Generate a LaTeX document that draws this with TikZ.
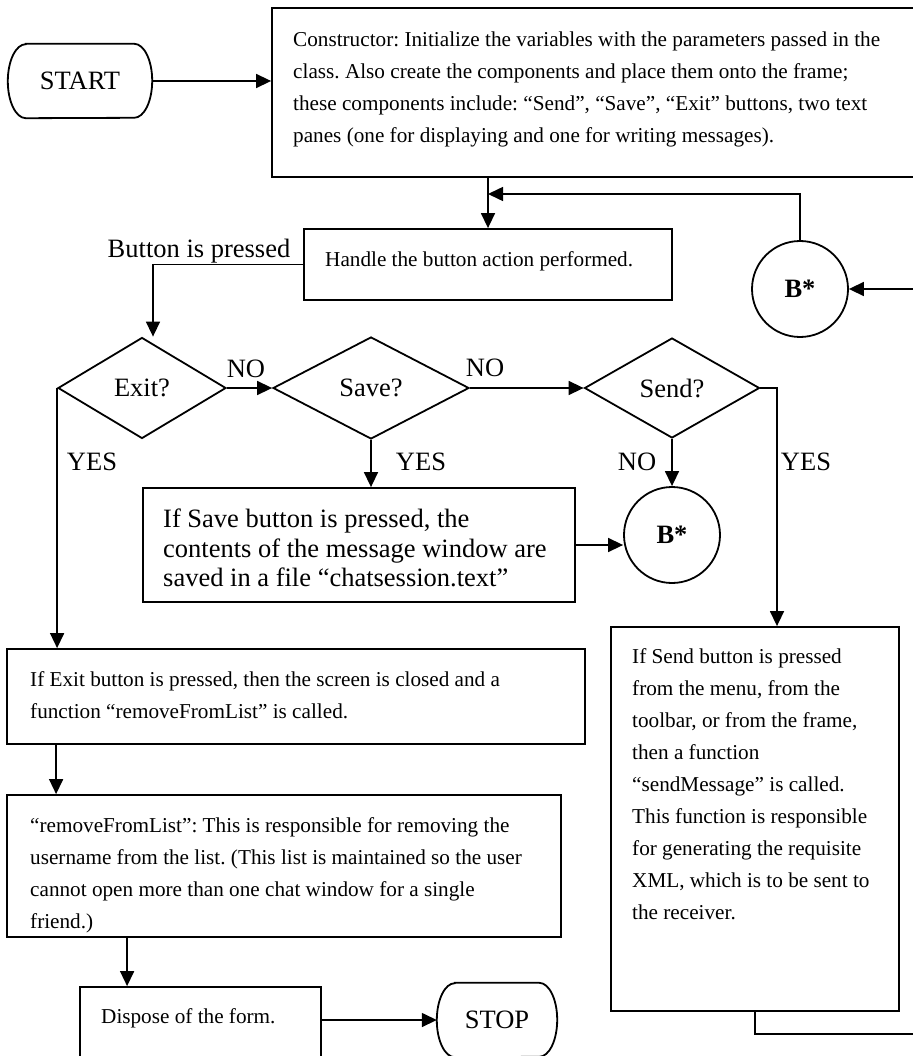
\documentclass[tikz,border=0pt]{standalone}
\usepackage{fontspec}
\setmainfont{Liberation Serif}
\usetikzlibrary{arrows.meta,positioning,shapes.geometric}
\newcommand{\flowbig}{\fontsize{26.5}{29.5}\selectfont}
\newcommand{\flowsmall}{\fontsize{21.2}{32}\selectfont}
\frenchspacing

\begin{document}
\begin{tikzpicture}[x=1pt,y=-1pt,
terminal/.style={rectangle,inner sep=0pt,minimum height=74pt,font=\flowbig},
caja/.style={draw,line width=1.8pt,inner sep=0pt},
boxtext/.style={anchor=north west,align=left,inner sep=0pt,font=\flowsmall},
decision/.style={diamond,draw,line width=1.8pt,inner sep=0pt,font=\flowbig},
connector/.style={circle,draw,line width=1.8pt,minimum size=96pt,inner sep=0pt,font=\flowbig\bfseries},
arr/.style={-{Triangle[length=15pt,width=14pt]},line width=1.5pt},
lbl/.style={anchor=base,inner sep=0pt,font=\flowbig}
]
\useasboundingbox[fill=white] (0,0) rectangle (912,1056);

% start and constructor
\node[terminal,minimum width=144pt] (start) at (80,81) {START};
\node[caja,minimum width=658pt,minimum height=169pt] (ctor) at (601,92.5) {};
\node[boxtext] (ctortext) at (293,32) {Constructor: Initialize the variables with the parameters passed in the\\
class. Also create the components and place them onto the frame;\\
these components include: ``Send'', ``Save'', ``Exit'' buttons, two text\\
panes (one for displaying and one for writing messages).};

% button handler and the B* return
\node[caja,minimum width=368pt,minimum height=71pt] (handle) at (488,264.5) {};
\node[boxtext] (handletext) at (325,251) {Handle the button action performed.};
\node[lbl] (pressed) at (199,258) {Button is pressed};
\node[connector] (bjump) at (800,289) {B*};
\coordinate (rejoin) at (488,194);

% decisions
\node[decision,minimum width=168pt,minimum height=101pt] (exit) at (142,388) {Exit?};
\node[decision,minimum width=196pt,minimum height=102pt] (save) at (371,388) {Save?};
\node[decision,minimum width=175pt,minimum height=100pt] (send) at (672,388) {Send?};

\node[lbl] (noexit) at (246,377) {NO};
\node[lbl] (nosave) at (485,376) {NO};
\node[lbl] (yesexit) at (92,470) {YES};
\node[lbl] (yessave) at (421,470) {YES};
\node[lbl] (nosend) at (637,470) {NO};
\node[lbl] (yessend) at (806,470) {YES};

% save branch
\node[caja,minimum width=432pt,minimum height=114pt] (savebox) at (359,545) {};
\node[boxtext,font=\flowbig] (savetext) at (163,509) {If Save button is pressed, the\\
contents of the message window are\\
saved in a file ``chatsession.text''};
\node[connector] (bsave) at (672,535) {B*};

% send branch
\node[caja,minimum width=288pt,minimum height=384pt] (sendbox) at (755,819) {};
\node[boxtext] (sendtext) at (632,648) {If Send button is pressed\\
from the menu, from the\\
toolbar, or from the frame,\\
then a function\\
``sendMessage'' is called.\\
This function is responsible\\
for generating the requisite\\
XML, which is to be sent to\\
the receiver.};
\coordinate (rim) at (930,1034);

% exit branch
\node[caja,minimum width=578pt,minimum height=95pt] (exitbox) at (296,696.5) {};
\node[boxtext] (exittext) at (30,671) {If Exit button is pressed, then the screen is closed and a\\
function ``removeFromList'' is called.};
\node[caja,minimum width=554pt,minimum height=142pt] (removebox) at (284,866) {};
\node[boxtext] (removetext) at (30,817) {``removeFromList'': This is responsible for removing the\\
username from the list. (This list is maintained so the user\\
cannot open more than one chat window for a single\\
friend.)};
\node[caja,minimum width=241pt,minimum height=75pt] (dispose) at (200.5,1024.5) {};
\node[boxtext] (disposetext) at (101,1008) {Dispose of the form.};
\node[terminal,minimum width=120pt] (stop) at (497,1020) {STOP};

% terminal outlines with flattened ends
\foreach \t in {start,stop}
  \draw[line width=1.8pt] ([xshift=18pt]\t.north west) -- ([xshift=-18pt]\t.north east)
    arc[start angle=90,end angle=-90,x radius=18pt,y radius=37pt]
    -- ([xshift=18pt]\t.south west)
    arc[start angle=270,end angle=90,x radius=18pt,y radius=37pt] -- cycle;

% connectors
\draw[arr] (start) -- (start -| ctor.west);
\draw[arr] (handle.north |- ctor.south) -- (handle.north);
\draw[arr] (bjump.north) |- (rejoin);
\draw[arr] (handle.west) -| ([xshift=11pt]exit.north);
\draw[arr] (exit) -- (save);
\draw[arr] (save) -- (send);
\draw[arr] (send.east) -| ([xshift=22pt]sendbox.north);
\draw[arr] (send) -- (bsave);
\draw[arr] (save.south) -- (save.south |- savebox.north);
\draw[arr] (savebox.east) -- (savebox.east -| bsave.west);
\draw[arr] (exit.west) -- (exit.west |- exitbox.north);
\draw[arr] ([xshift=50pt]exitbox.south west) -- ([xshift=50pt]removebox.north west);
\draw[arr] ([xshift=121pt]removebox.south west) -- ([xshift=121pt]removebox.south west |- dispose.north);
\draw[arr] (dispose.east |- stop) -- (stop.west);
\draw[arr] (sendbox.south) |- (rim) |- (bjump.east);
\end{tikzpicture}
\end{document}
